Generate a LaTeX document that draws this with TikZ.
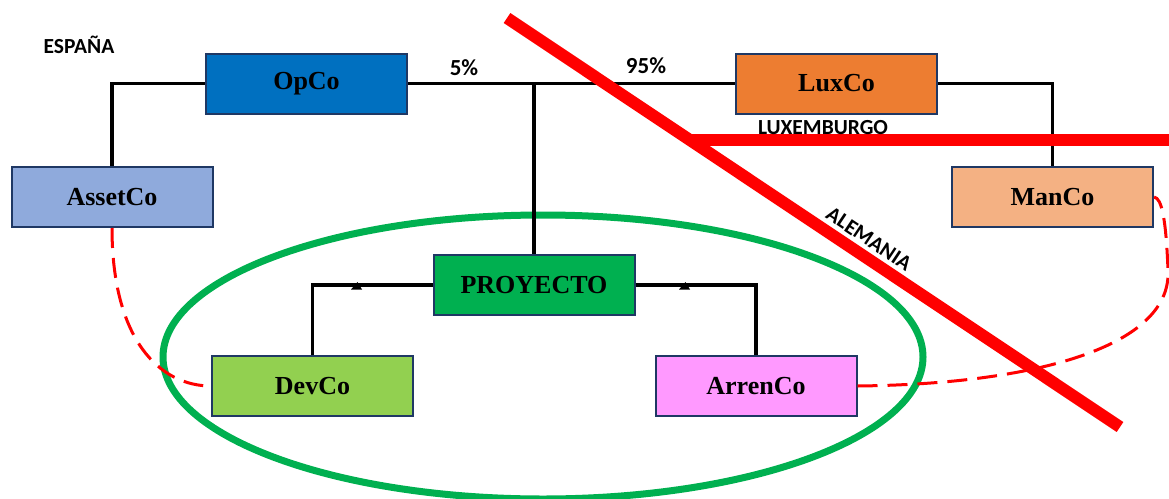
\documentclass[tikz,border=0pt]{standalone}
\usepackage{fontspec}
\setmainfont{Liberation Serif}
\newfontfamily\labelfont{Carlito}
\definecolor{boxline}{HTML}{1F3864}
\definecolor{opco}{HTML}{0070C0}
\definecolor{assetco}{HTML}{8FAADC}
\definecolor{luxco}{HTML}{ED7D31}
\definecolor{manco}{HTML}{F4B183}
\definecolor{proyecto}{HTML}{00B050}
\definecolor{devco}{HTML}{92D050}
\definecolor{arrenco}{HTML}{FF99FF}
\definecolor{ringgreen}{HTML}{00B050}
\definecolor{border}{HTML}{FF0000}
\tikzset{
  company/.style={draw=boxline, line width=2pt, minimum width=201pt, minimum height=60pt,
    inner sep=0pt, font=\fontsize{26}{30}\selectfont\bfseries},
  link/.style={draw=black, line width=3.5pt},
  related/.style={draw=border, line width=3pt, dash pattern=on 20pt off 10pt},
  frontier/.style={draw=border, line width=12pt},
  country/.style={font=\labelfont\fontsize{21.5}{24}\selectfont\bfseries, inner sep=0pt},
  share/.style={font=\labelfont\fontsize{23}{26}\selectfont\bfseries, inner sep=0pt},
  tip/.style={fill=black}
}
\begin{document}
\begin{tikzpicture}[x=1pt, y=-1pt]
\useasboundingbox (0,0) rectangle (1169,498);

% project perimeter
\draw[ringgreen, line width=7pt] (543,357) ellipse [x radius=380, y radius=142];

% companies
\node[company, fill=opco]     (OpCo)     at (306.5,83.5)  {OpCo};
\node[company, fill=assetco]  (AssetCo)  at (112,197)     {AssetCo};
\node[company, fill=luxco]    (LuxCo)    at (836.5,83.5)  {LuxCo};
\node[company, fill=manco]    (ManCo)    at (1052.5,197)  {ManCo};
\node[company, fill=proyecto] (PROYECTO) at (534,285)     {PROYECTO};
\node[company, fill=devco]    (DevCo)    at (312.5,386)   {DevCo};
\node[company, fill=arrenco]  (ArrenCo)  at (756,386)     {ArrenCo};

% ownership links
\coordinate (J) at (534,83.5);
\draw[link] (OpCo.west) -| (AssetCo.north);
\draw[link] (OpCo.east) -- (LuxCo.west);
\draw[link] (J) -- (PROYECTO.north);
\draw[link] (LuxCo.east) -| (ManCo.north);
\draw[link] (PROYECTO.west) -| (DevCo.north);
\draw[link] (PROYECTO.east) -| (ArrenCo.north);

% small arrow marks on the project links
\fill[tip] (351,289.5) -- (357.5,282) -- (362,289.5) -- cycle;
\fill[tip] (679,289.5) -- (685.5,282) -- (690,289.5) -- cycle;

% contractual relations
\draw[related] (AssetCo.south) .. controls (112,340) and (160,386) .. (DevCo.west);
\draw[related] (ArrenCo.east) .. controls (1040,384) and (1172,345) .. (1168,270)
  .. controls (1166,220) and (1162,198) .. (ManCo.east);

% country borders
\draw[frontier] (507,18) -- (1120,427);
\draw[frontier] (689,139.5) -- (1169,139.5);

% labels
\node[country] (es) at (79,45) {ESPAÑA};
\node[country] (lu) at (823,128) {LUXEMBURGO};
\node[country, rotate=-33.8] (de) at (869,239) {ALEMANIA};
\node[share] (p5) at (464,68) {5\%};
\node[share] (p95) at (646,66) {95\%};
\end{tikzpicture}
\end{document}
